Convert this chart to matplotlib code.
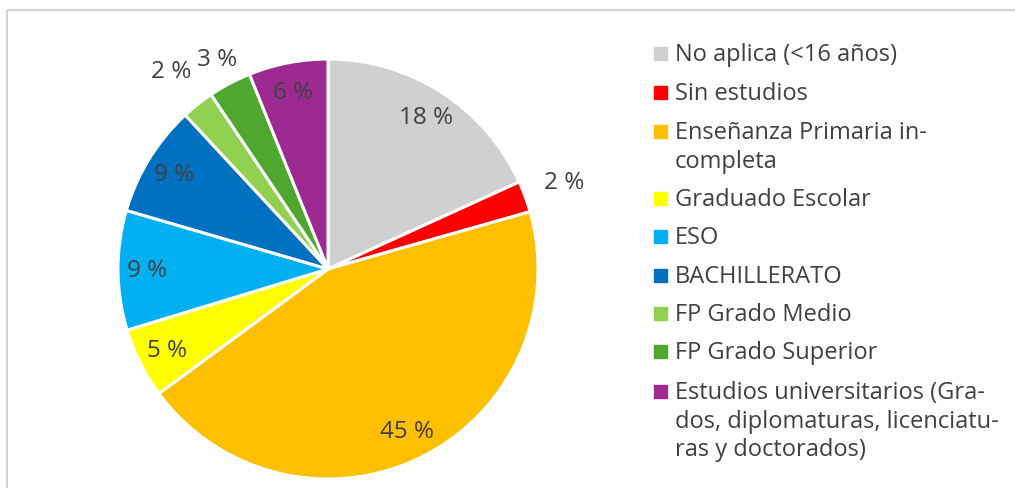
import matplotlib
matplotlib.use("Agg")
import matplotlib.pyplot as plt
from matplotlib.patches import Rectangle
import numpy as np

# ============================================================
# DATA
# ============================================================
categories = [
    "No aplica (<16 años)",
    "Sin estudios",
    "Enseñanza Primaria in-\ncompleta",
    "Graduado Escolar",
    "ESO",
    "BACHILLERATO",
    "FP Grado Medio",
    "FP Grado Superior",
    "Estudios universitarios (Gra-\ndos, diplomaturas, licenciatu-\nras y doctorados)",
]
shares = [18.2, 2.4, 44.3, 5.4, 9.2, 8.6, 2.5, 3.3, 6.1]
pct_labels = [18, 2, 45, 5, 9, 9, 2, 3, 6]
colors = ["#D0D0D0", "#FF0000", "#FFC000", "#FFFF00", "#00B0F0",
          "#0070C0", "#92D050", "#4EA72E", "#9C2A91"]

plt.rcParams["font.family"] = ["Open Sans", "DejaVu Sans"]
TXT = "#404040"

W, H = 1015, 489
fig = plt.figure(figsize=(W / 100, H / 100), dpi=100)

# overlay axes in pixel coordinates for frame + legend
bg = fig.add_axes([0, 0, 1, 1])
bg.set_xlim(0, W)
bg.set_ylim(H, 0)
bg.axis("off")
bg.add_patch(Rectangle((7, 11), W + 20, H + 20, fill=False,
                       edgecolor="#D4D4D4", linewidth=1.5))

# ============================================================
# PIE
# ============================================================
cx, cy, r = 328, 270, 210
ax = fig.add_axes([(cx - r) / W, (H - cy - r) / H, 2 * r / W, 2 * r / H])
wedges, _ = ax.pie(shares, colors=colors, startangle=90, counterclock=False,
                   wedgeprops=dict(edgecolor="white", linewidth=2.2))
ax.set_xlim(-1, 1)
ax.set_ylim(-1, 1)
ax.set_aspect("equal")

# small slices get their label outside the pie
label_dist = [0.86, 1.2, 0.86, 0.86, 0.86, 0.86, 1.2, 1.13, 0.86]
for w, p, d in zip(wedges, pct_labels, label_dist):
    ang = np.deg2rad((w.theta1 + w.theta2) / 2)
    ax.text(d * np.cos(ang), d * np.sin(ang), f"{p} %", ha="center",
            va="center", fontsize=17.5, color=TXT, clip_on=False)

# ============================================================
# LEGEND
# ============================================================
row_y = [55, 94, 133, 200, 238, 277, 315, 353, 393]
line_h = 28.5
for lab, c, y in zip(categories, colors, row_y):
    bg.add_patch(Rectangle((654, y - 7), 13, 13, color=c))
    for i, line in enumerate(lab.split("\n")):
        bg.text(675, y + i * line_h, line, ha="left", va="center",
                fontsize=17, color=TXT)

fig.savefig("out.png", dpi=100)
